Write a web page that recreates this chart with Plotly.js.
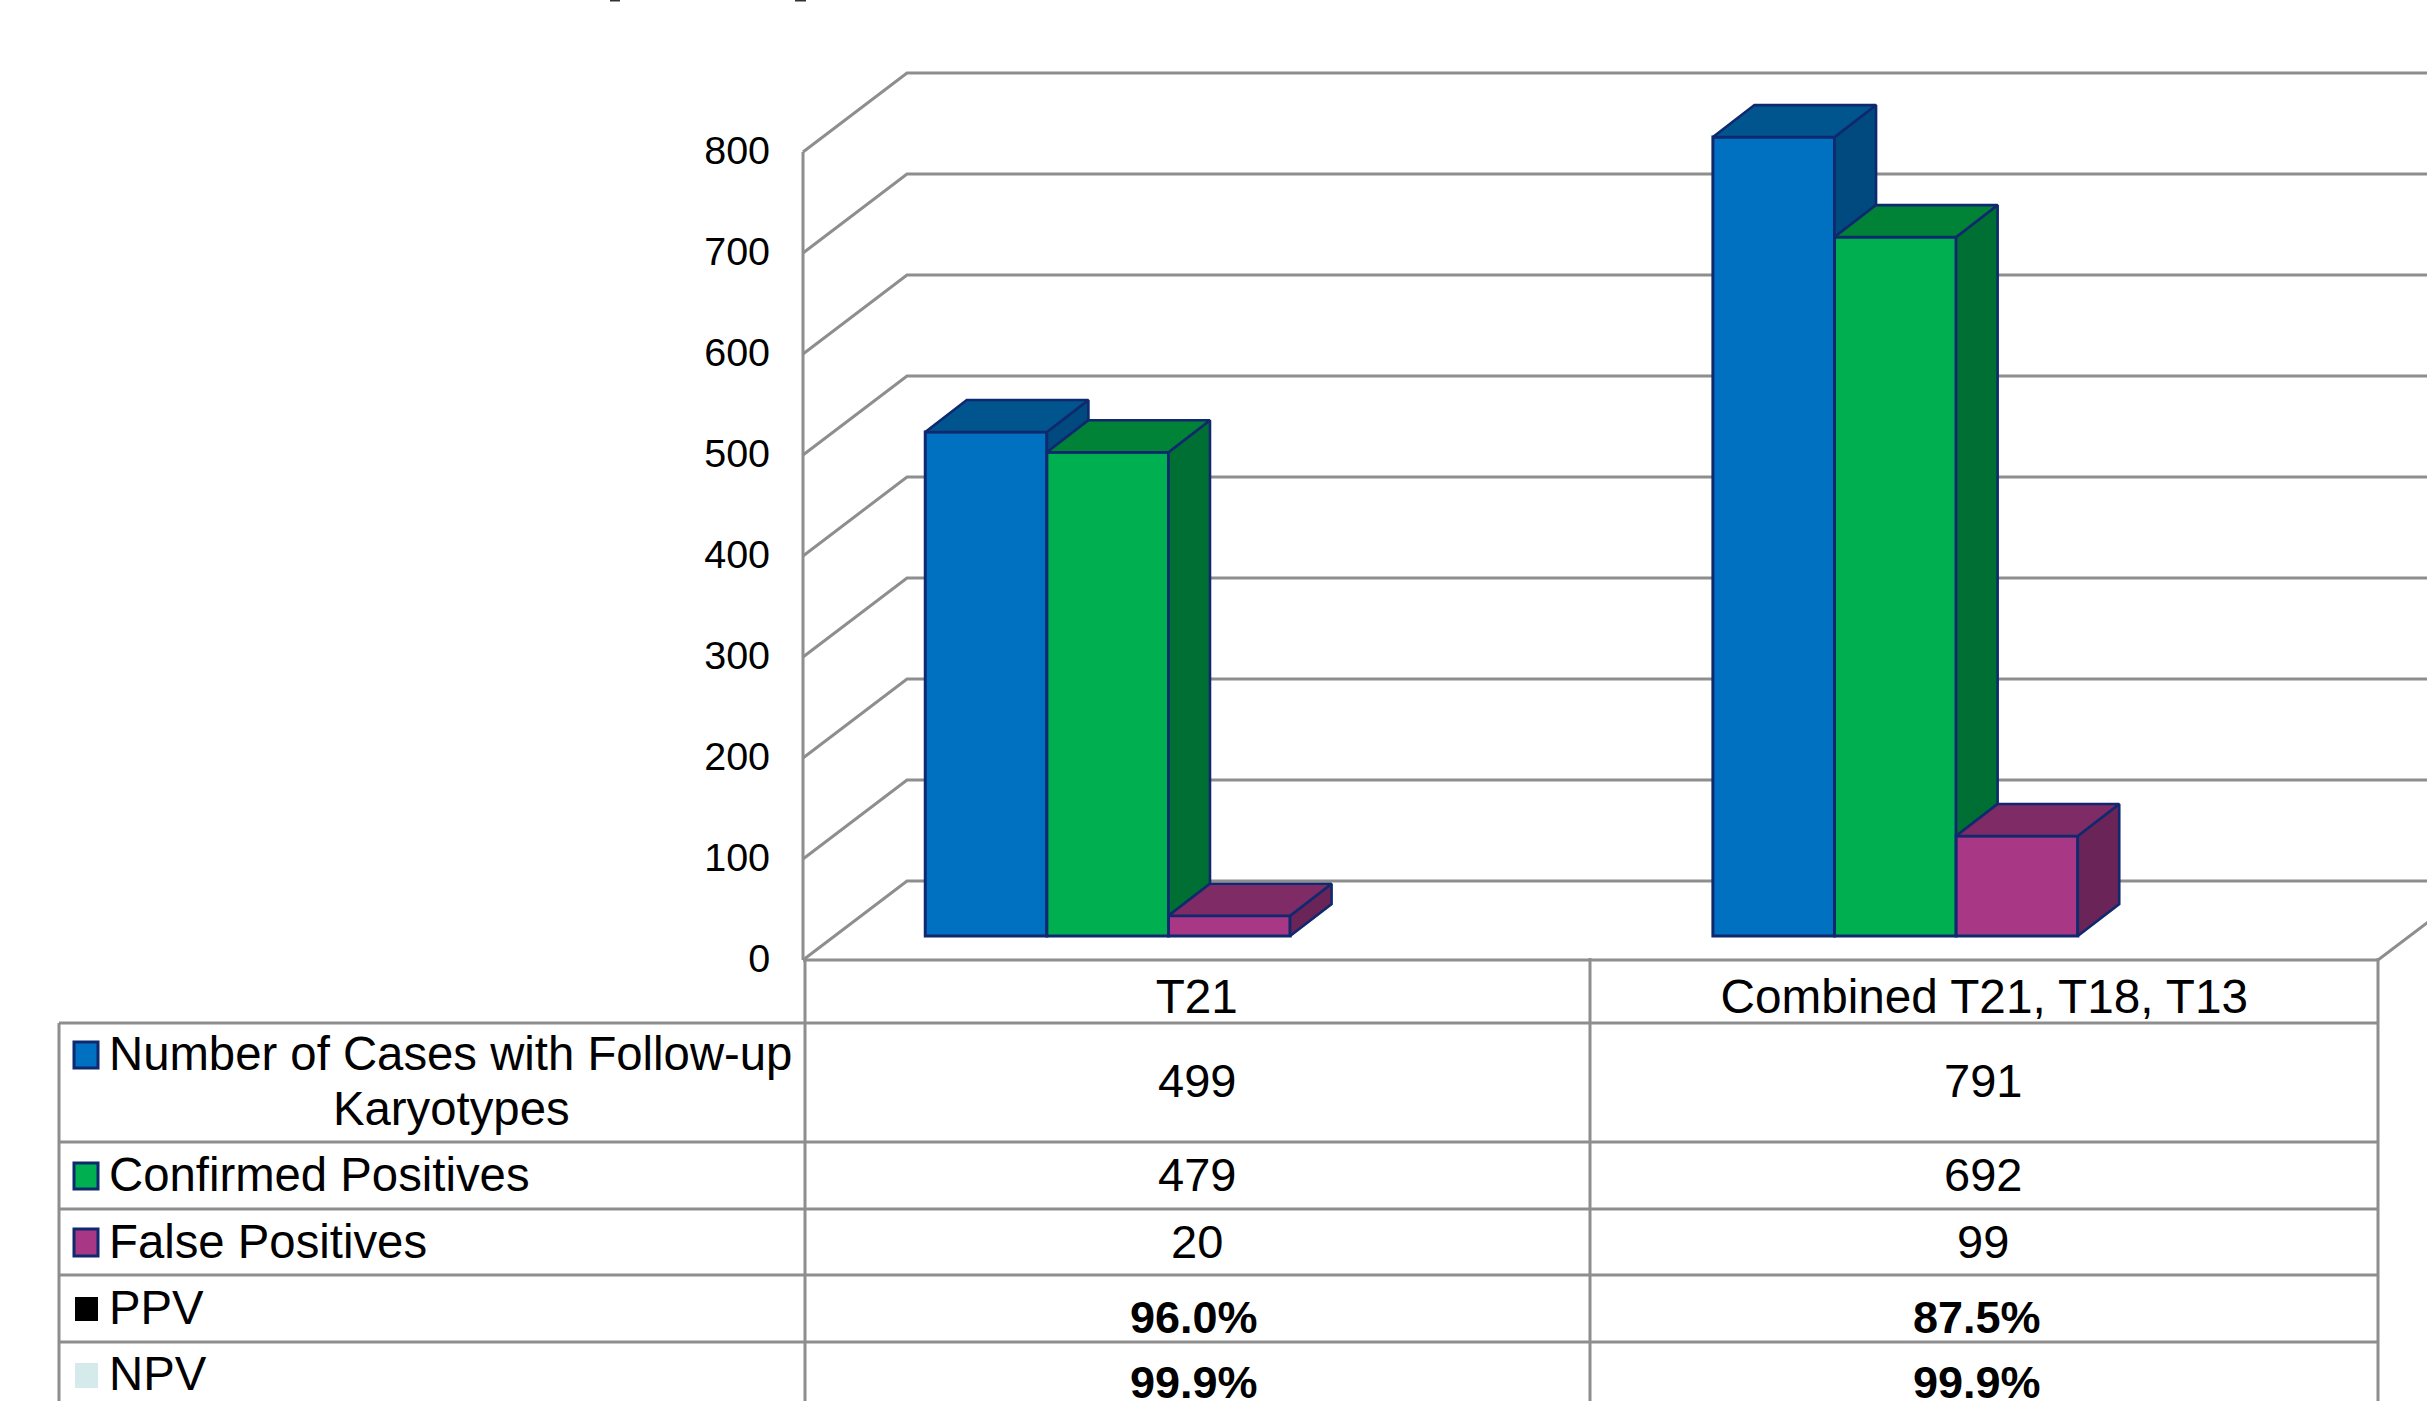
<!DOCTYPE html>
<html>
<head>
<meta charset="utf-8">
<script src="https://cdn.plot.ly/plotly-3.0.1.min.js"></script>
<style>html,body{margin:0;padding:0;background:#fff;overflow:hidden}</style>
</head>
<body>
<div id="chart" style="width:2427px;height:1401px"></div>
<script>
// Chart values
const categories = ['T21', 'Combined T21, T18, T13'];
const caseCounts = [499, 791];
const confirmedPositives = [479, 692];
const falsePositives = [20, 99];
const ppv = ['96.0%', '87.5%'];
const npv = ['99.9%', '99.9%'];
const seriesNames = ['Number of Cases with Follow-up<br>Karyotypes', 'Confirmed Positives', 'False Positives'];
const yTicks = [0, 100, 200, 300, 400, 500, 600, 700, 800];

// Face colours for each series: front, top, side
const frontColors = ['#0070C0', '#00B050', '#A83885'];
const topColors = ['#00558F', '#008237', '#7E2B66'];
const sideColors = ['#004A80', '#006F33', '#6A2458'];
const edgeColor = '#10296E';
const ruleColor = '#8E8E8E';
const FONT = '"Liberation Sans", Arial, sans-serif';

// Page and plot frame in pixels
const W = 2427, H = 1401;
const plotLeft = 793, plotBottom = 970;
const axisX = 803, axisY0 = 960, unitPx = 1.01, catPx = 787.5;

// Pseudo-3D offsets in axis units
const wallDx = 104 / catPx, wallDy = 79 / unitPx;
const barDx = 41.5 / catPx, barDy = 32 / unitPx;
const barLift = 24 / unitPx;
const barW = 121.6 / catPx;
const groupCentres = [0.3869, 1.3871];

const xRange = [(plotLeft - axisX) / catPx, (W - axisX) / catPx];
const yRange = [(axisY0 - plotBottom) / unitPx, axisY0 / unitPx];

// Pixel position to paper fraction, for the data table under the plot
const px = x => (x - plotLeft) / (W - plotLeft);
const py = y => (plotBottom - y) / plotBottom;

const seriesValues = [caseCounts, confirmedPositives, falsePositives];
const traces = [];
const shapes = [];

// Walls and floor sit on the layer beneath the columns
function wallLine(xs, ys) {
  const path = xs.map((x, i) => (i ? 'L' : 'M') + x + ',' + ys[i]).join(' ');
  shapes.push({type: 'path', xref: 'x', yref: 'y', path: path, layer: 'below',
    line: {color: ruleColor, width: 3}});
}
yTicks.forEach(v => wallLine([0, wallDx, 2 + wallDx], [v, v + wallDy, v + wallDy]));
wallLine([0, 0], [0, yTicks[yTicks.length - 1]]);
wallLine([0, 2, 2 + wallDx], [0, 0, wallDy]);

// Front faces of the columns
seriesValues.forEach((vals, s) => {
  traces.push({
    type: 'bar', name: seriesNames[s].replace('<br>', ' '),
    x: groupCentres, y: vals, base: vals.map(() => barLift),
    marker: {color: frontColors[s], line: {color: edgeColor, width: 3}},
    showlegend: false
  });
});

// Top and side faces, painted back to front by series
function face(xs, ys, color) {
  traces.push({
    type: 'scatter', mode: 'lines', x: xs.concat(xs[0]), y: ys.concat(ys[0]),
    fill: 'toself', fillcolor: color,
    line: {color: edgeColor, width: 2.6}, hoverinfo: 'skip', showlegend: false
  });
}
groupCentres.forEach((cx, c) => {
  seriesValues.forEach((vals, s) => {
    const xl = cx + (s - 1.5) * barW, xr = xl + barW;
    const top = barLift + vals[c];
    const next = seriesValues[s + 1];
    const low = barLift + (next ? next[c] : 0);
    face([xr, xr + barDx, xr + barDx, xr], [top, top + barDy, low + barDy, low], sideColors[s]);
    face([xl, xr, xr + barDx, xl + barDx], [top, top, top + barDy, top + barDy], topColors[s]);
  });
});

// Data table under the plot
const rowRules = [1023, 1142, 1209, 1275, 1342];
const colRules = [805, 1590, 2378];
const tableLeft = 59, tableBottom = H + 5, headTop = 958;
const rule = (x0, y0, x1, y1) => shapes.push({
  type: 'line', xref: 'paper', yref: 'paper',
  x0: px(x0), y0: py(y0), x1: px(x1), y1: py(y1),
  line: {color: ruleColor, width: 3}
});
rowRules.forEach(y => rule(tableLeft, y, colRules[2], y));
rule(tableLeft, rowRules[0], tableLeft, tableBottom);
colRules.forEach(x => rule(x, headTop, x, tableBottom));

// Two descender tips of a heading that runs off the top edge
[[610, 620], [795, 806]].forEach(([x0, x1]) => shapes.push({
  type: 'line', xref: 'paper', yref: 'paper',
  x0: px(x0), x1: px(x1), y0: py(0.5), y1: py(0.5),
  line: {color: '#333333', width: 2}
}));

// Legend keys in the first table column
const keys = [
  {x0: 74, x1: 98, y0: 1042, y1: 1068, fill: frontColors[0], edge: edgeColor},
  {x0: 74, x1: 98, y0: 1163, y1: 1189, fill: frontColors[1], edge: edgeColor},
  {x0: 74, x1: 98, y0: 1229, y1: 1256, fill: frontColors[2], edge: edgeColor},
  {x0: 75, x1: 98, y0: 1297, y1: 1321, fill: '#000000', edge: null},
  {x0: 75, x1: 98, y0: 1363, y1: 1388, fill: '#D5EAEA', edge: null}
];
keys.forEach(k => shapes.push({
  type: 'rect', xref: 'paper', yref: 'paper',
  x0: px(k.x0), x1: px(k.x1), y0: py(k.y0), y1: py(k.y1),
  fillcolor: k.fill, line: k.edge ? {color: k.edge, width: 3} : {width: 0}
}));

const annotations = [];
const label = (text, x, y, anchor, size, bold) => annotations.push({
  text: bold ? '<b>' + text + '</b>' : text,
  xref: 'paper', yref: 'paper', x: px(x), y: py(y),
  xanchor: anchor, yanchor: 'middle', showarrow: false,
  font: {family: FONT, size: size, color: '#000'}
});
const firstLines = seriesNames[0].split('<br>');
label(firstLines[0], 107, 1053.5, 'left', 47.3);
label(firstLines[1], 451, 1108.5, 'center', 47.3);
label(seriesNames[1], 107, 1174.5, 'left', 47.3);
label(seriesNames[2], 107, 1241.5, 'left', 47.3);
label('PPV', 107, 1307.5, 'left', 47.3);
label('NPV', 107, 1373.5, 'left', 47.3);

const colCentres = [1197, 1983];
const boldCentres = [1194, 1977];
colCentres.forEach((x, c) => {
  label(String(caseCounts[c]), x, 1080.5, 'center', 47);
  label(String(confirmedPositives[c]), x, 1174.5, 'center', 47);
  label(String(falsePositives[c]), x, 1241.5, 'center', 47);
  label(ppv[c], boldCentres[c], 1317, 'center', 45, true);
  label(npv[c], boldCentres[c], 1382, 'center', 45, true);
});

const layout = {
  width: W, height: H,
  margin: {l: plotLeft, r: 0, t: 0, b: H - plotBottom, pad: 0},
  paper_bgcolor: '#fff', plot_bgcolor: '#fff',
  barmode: 'group', bargap: 1 - 3 * barW, bargroupgap: 0,
  showlegend: false,
  xaxis: {
    range: xRange, tickmode: 'array', tickvals: [0.5, 1.5], ticktext: categories,
    showgrid: false, zeroline: false, showline: false,
    ticks: '', ticklabelstandoff: -6,
    tickfont: {family: FONT, size: 47.7, color: '#000'}
  },
  yaxis: {
    range: yRange, tickmode: 'array', tickvals: yTicks,
    showgrid: false, zeroline: false, showline: false,
    ticks: 'outside', ticklen: 14, tickcolor: 'rgba(0,0,0,0)', ticklabelshift: -2,
    tickfont: {family: FONT, size: 39.5, color: '#000'}
  },
  shapes: shapes,
  annotations: annotations
};

Plotly.newPlot('chart', traces, layout, {displayModeBar: false, responsive: false});
</script>
</body>
</html>
